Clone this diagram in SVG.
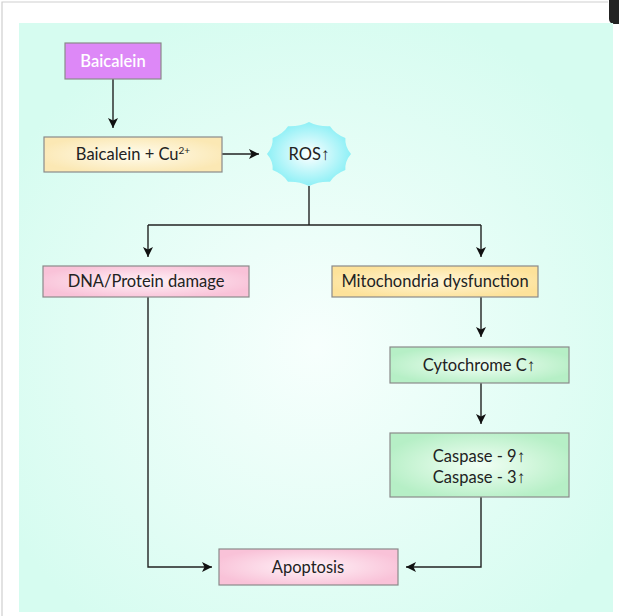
<svg xmlns="http://www.w3.org/2000/svg" width="619" height="616" viewBox="0 0 619 616">
<style>
.box{stroke:#8a8a8a;stroke-width:1.2}
.t{font-family:Lato,"Liberation Sans",sans-serif;font-size:16.5px;fill:#222;text-anchor:middle}
.w{fill:#fff;font-weight:600}
.a{font-family:"Liberation Sans",sans-serif;font-weight:bold;font-size:17px}
.c{fill:none;stroke:#222;stroke-width:1.4}
</style>
<defs>
<radialGradient id="bg" cx="0.5" cy="0.55" r="0.6">
<stop offset="0" stop-color="#f7fffd"/>
<stop offset="1" stop-color="#d6fcf0"/>
</radialGradient>
<radialGradient id="pink" cx="0.5" cy="0.5" r="0.55">
<stop offset="0" stop-color="#fff3f8"/>
<stop offset="1" stop-color="#f9c2d8"/>
</radialGradient>
<radialGradient id="ylw" cx="0.5" cy="0.5" r="0.55">
<stop offset="0" stop-color="#fffcee"/>
<stop offset="1" stop-color="#fbe8b4"/>
</radialGradient>
<radialGradient id="ylw2" cx="0.5" cy="0.5" r="0.55">
<stop offset="0" stop-color="#fff6d8"/>
<stop offset="1" stop-color="#fde29a"/>
</radialGradient>
<radialGradient id="grn" cx="0.5" cy="0.5" r="0.55">
<stop offset="0" stop-color="#f2fff5"/>
<stop offset="1" stop-color="#b6efc6"/>
</radialGradient>
<radialGradient id="cyan" cx="0.5" cy="0.5" r="0.5">
<stop offset="0" stop-color="#ffffff"/>
<stop offset="1" stop-color="#8ef0f6"/>
</radialGradient>
<marker id="ah" viewBox="0 0 10 10" refX="10" refY="5" markerWidth="10" markerHeight="10" markerUnits="userSpaceOnUse" orient="auto">
<path d="M0,0 L10,5 L0,10 L2.5,5 Z" fill="#111"/>
</marker>
</defs>
<rect x="0" y="0" width="619" height="616" fill="#fff"/>
<path d="M2,616 L2,2 L608,2" fill="none" stroke="#cfcfcf" stroke-width="1.2"/>
<rect x="609" y="-10" width="20" height="34" rx="5" fill="#222"/>
<rect x="19" y="23" width="594" height="589" fill="url(#bg)"/>

<g id="connectors">
<path class="c" d="M113,79 V128" marker-end="url(#ah)"/>
<path class="c" d="M222,154 H259" marker-end="url(#ah)"/>
<path class="c" d="M309,186 V225"/>
<path class="c" d="M148,225 H481"/>
<path class="c" d="M148,225 V257" marker-end="url(#ah)"/>
<path class="c" d="M481,225 V257" marker-end="url(#ah)"/>
<path class="c" d="M148,297 V567 H212" marker-end="url(#ah)"/>
<path class="c" d="M481,297 V337" marker-end="url(#ah)"/>
<path class="c" d="M481,383 V424" marker-end="url(#ah)"/>
<path class="c" d="M481,497 V567 H406" marker-end="url(#ah)"/>
</g>

<g id="baicalein">
<rect class="box" x="65" y="43" width="96" height="36" fill="#dd88f7" stroke="#666"/>
<text class="t w" x="113" y="67">Baicalein</text>
</g>
<g id="baicalein-cu">
<rect class="box" x="44" y="137" width="178" height="35" fill="url(#ylw)"/>
<text class="t" x="133" y="160">Baicalein + Cu<tspan font-size="10" dy="-6">2+</tspan></text>
</g>
<g id="ros">
<path d="M351,154 Q344.70,161.29 345.37,170 Q335.13,173.91 330,181.71 Q318.57,181.20 309,186 Q299.43,181.20 288,181.71 Q282.87,173.91 272.63,170 Q273.30,161.29 267,154 Q273.30,146.71 272.63,138 Q282.87,134.09 288,126.29 Q299.43,126.80 309,122 Q318.57,126.80 330,126.29 Q335.13,134.09 345.37,138 Q344.70,146.71 351,154 Z" fill="url(#cyan)"/>
<text class="t" x="309" y="160">ROS<tspan class="a">↑</tspan></text>
</g>
<g id="dna">
<rect class="box" x="43" y="266" width="206" height="31" fill="url(#pink)"/>
<text class="t" x="146" y="287">DNA/Protein damage</text>
</g>
<g id="mito">
<rect class="box" x="332" y="266" width="206" height="31" fill="url(#ylw2)"/>
<text class="t" x="435" y="287">Mitochondria dysfunction</text>
</g>
<g id="cytc">
<rect class="box" x="390" y="347" width="179" height="36" fill="url(#grn)"/>
<text class="t" x="479" y="371">Cytochrome C<tspan class="a">↑</tspan></text>
</g>
<g id="caspase">
<rect class="box" x="390" y="433" width="179" height="64" fill="url(#grn)"/>
<text class="t" x="479" y="462">Caspase - 9<tspan class="a">↑</tspan></text>
<text class="t" x="479" y="483">Caspase - 3<tspan class="a">↑</tspan></text>
</g>
<g id="apoptosis">
<rect class="box" x="219" y="549" width="179" height="36" fill="url(#pink)"/>
<text class="t" x="308" y="573">Apoptosis</text>
</g>
</svg>
